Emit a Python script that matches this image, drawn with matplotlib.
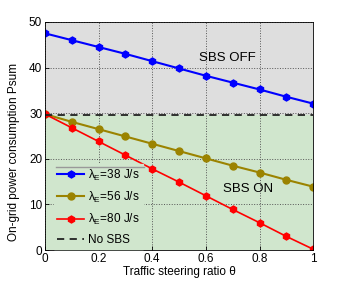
import numpy as np
import matplotlib
matplotlib.use("Agg")
import matplotlib.pyplot as plt

plt.rcParams['font.family'] = ['Liberation Sans', 'DejaVu Sans']
plt.rcParams['font.size'] = 8.5
plt.rcParams['mathtext.fontset'] = 'custom'
plt.rcParams['mathtext.rm'] = 'Liberation Sans'
plt.rcParams['mathtext.it'] = 'Liberation Sans'

theta = [0, 0.1, 0.2, 0.3, 0.4, 0.5, 0.6, 0.7, 0.8, 0.9, 1.0]
p_38 = [47.5, 46.0, 44.5, 43.0, 41.4, 39.8, 38.2, 36.7, 35.2, 33.6, 32.1]
p_56 = [29.8, 28.1, 26.5, 24.9, 23.3, 21.7, 20.1, 18.5, 17.0, 15.4, 13.9]
p_80 = [29.8, 26.8, 23.8, 20.8, 17.8, 14.9, 11.9, 8.9, 6.0, 3.0, 0.2]
no_sbs = 29.7

green = '#d0e6cd'
fig = plt.figure(figsize=(3.46, 2.81), dpi=100)
ax = fig.add_axes([0.130, 0.110, 0.775, 0.812])

# shaded regions
ax.axhspan(no_sbs, 50, color='#dedede', zorder=0)
ax.axhspan(0, no_sbs, color=green, zorder=0)

lam = r'$\mathrm{\lambda_E}$'
ax.plot(theta, p_38, '-', color='#0000ff', marker='h', ms=5, lw=1.5, label=lam + '=38 J/s')
ax.plot(theta, p_56, '-', color='#9b8300', marker='o', ms=5, lw=1.5, label=lam + '=56 J/s')
ax.plot(theta, p_80, '-', color='#ff0000', marker='h', ms=5, lw=1.2, label=lam + '=80 J/s')
ax.axhline(no_sbs, color='#222222', ls=(0, (4, 3)), lw=1.3, label='No SBS')

ax.text(0.68, 42, 'SBS OFF', ha='center', va='center', fontsize=9.5)
ax.text(0.757, 13.4, 'SBS ON', ha='center', va='center', fontsize=9.5)

ax.set_xlim(0, 1)
ax.set_ylim(0, 50)
ax.set_xticks([0, 0.2, 0.4, 0.6, 0.8, 1])
ax.set_xticklabels(['0', '0.2', '0.4', '0.6', '0.8', '1'])
ax.set_yticks([0, 10, 20, 30, 40, 50])
ax.tick_params(direction='in', length=3, pad=2, width=0.6)
ax.grid(True, ls=':', color='#555555', lw=0.7)
ax.set_axisbelow(True)
for s in ax.spines.values():
    s.set_linewidth(0.6)

ax.set_xlabel(r'Traffic steering ratio θ', labelpad=1)
ax.set_ylabel('On-grid power consumption Psum')
ax.yaxis.set_label_coords(-0.095, 0.43)

leg = ax.legend(loc='lower left', bbox_to_anchor=(0.03, 0.0), frameon=True,
                fancybox=False, facecolor=green, edgecolor=green, framealpha=1,
                handlelength=2.3, handletextpad=0.3, labelspacing=0.6, fontsize=8.5,
                borderaxespad=0.05, borderpad=0.3)
leg.set_zorder(3)
# thin gray rule along the top of the legend box
ax.axhline(18.2, xmin=0.04, xmax=0.37, color='#999999', lw=1.0, zorder=10)

fig.savefig('out.png', dpi=100)
